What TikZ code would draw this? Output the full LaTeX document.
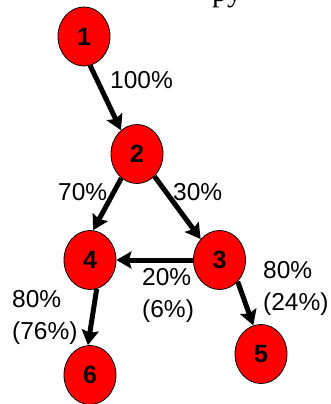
\documentclass[tikz,border=0pt]{standalone}
\usepackage{fontspec}
\setmainfont{Liberation Sans}
\newfontfamily\serifpart{Liberation Serif}
\usetikzlibrary{shapes.geometric,arrows.meta}
\tikzset{
  state/.style={ellipse, draw=black, line width=0.8pt, fill=red,
    minimum width=52pt, minimum height=59pt, inner sep=0pt,
    font=\fontsize{25}{30}\selectfont\bfseries},
  flow/.style={line width=5pt, -{Stealth[length=15pt,width=17pt,inset=2.5pt]}},
  share/.style={font=\fontsize{24.5}{32}\selectfont, inner sep=0pt, align=left}
}
\begin{document}
\begin{tikzpicture}[x=1pt,y=-1pt]
  \useasboundingbox (0,0) rectangle (331,404);
  % tail of a caption line running above the graph
  \begin{scope}
    \clip (0,0) rectangle (331,404);
    \node[anchor=base west, inner sep=0pt, font=\serifpart\fontsize{30}{36}\selectfont] (cap) at (212,1.5) {py};
  \end{scope}

  % states
  \node[state] (n1) at (84,36.5) {1};
  \node[state] (n2) at (137,154) {2};
  \node[state] (n4) at (90,260) {4};
  \node[state] (n3) at (219.5,260) {3};
  \node[state] (n5) at (261,354) {5};
  \node[state] (n6) at (90,375) {6};

  % transitions
  \draw[flow] (n1.-78) -- (n2.124);
  \draw[flow] (n2.-123) -- (n4.84);
  \draw[flow] (n2.-52) -- (n3.132);
  \draw[flow] (n3.west) -- (n4.east);
  \draw[flow] (n3.-50) -- (n5.105);
  \draw[flow] (n4.-77) -- (n6.94);

  % transition shares
  \node[share, anchor=west] (p12) at (110,80) {100\%};
  \node[share, anchor=west] (p24) at (58,192) {70\%};
  \node[share, anchor=west] (p23) at (173,192) {30\%};
  \node[share, anchor=north west] (p34) at (142,268) {20\%\\(6\%)};
  \node[share, anchor=north west] (p35) at (263,261) {80\%\\(24\%)};
  \node[share, anchor=north west] (p46) at (12,290) {80\%\\(76\%)};
\end{tikzpicture}
\end{document}
